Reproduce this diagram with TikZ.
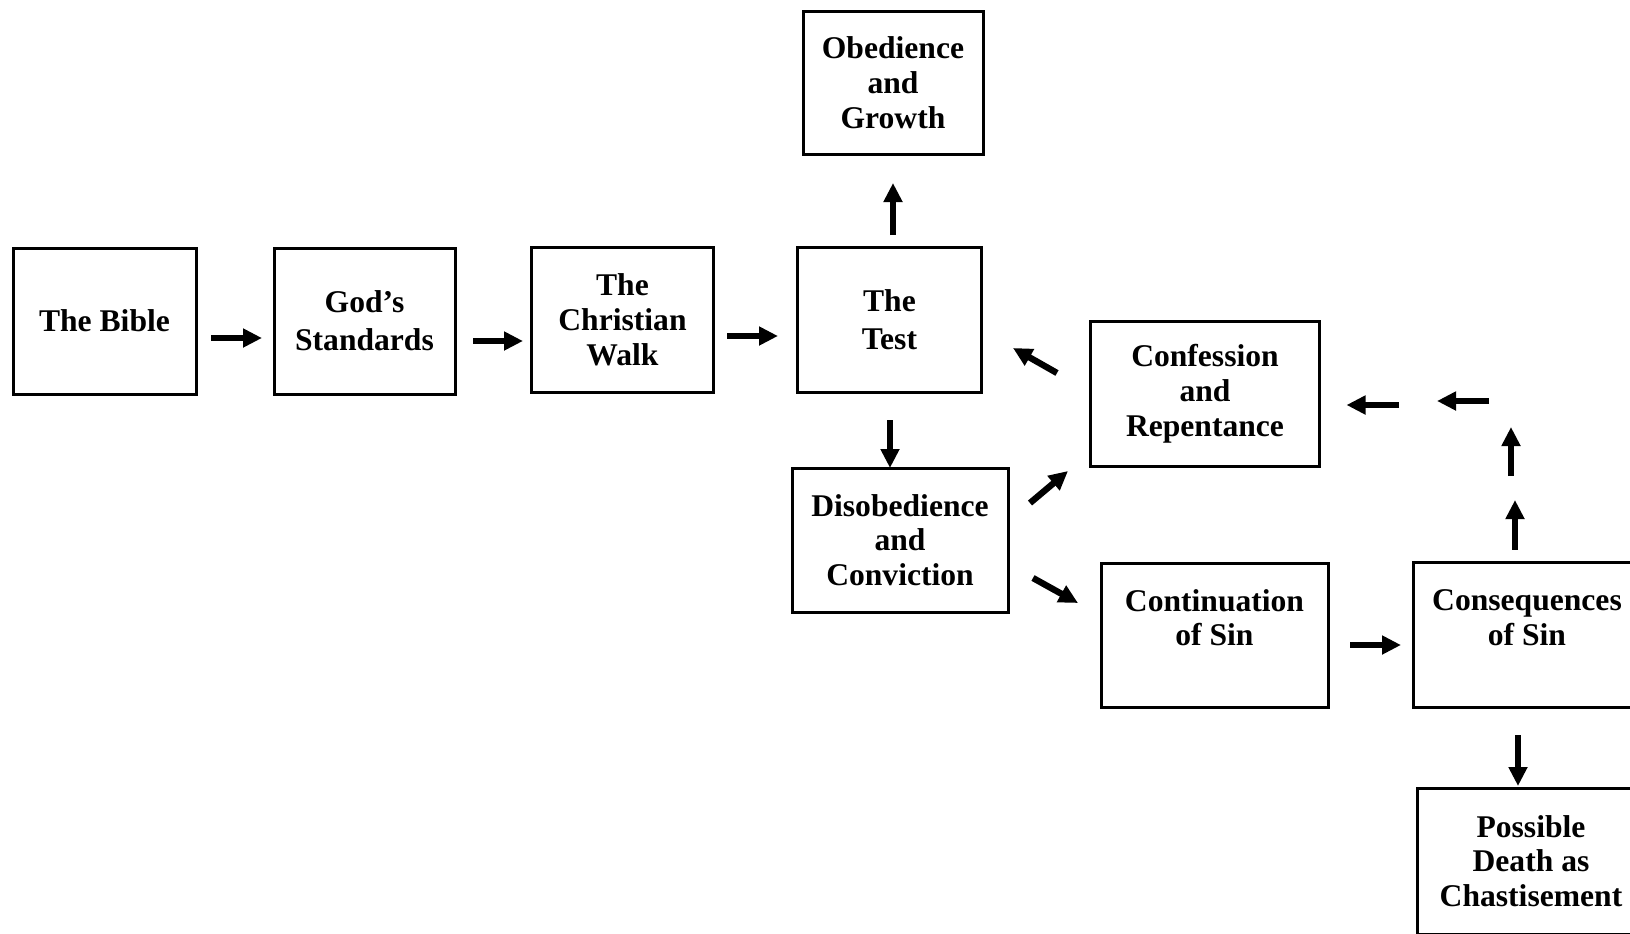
\documentclass[tikz,border=0pt]{standalone}
\usepackage{fontspec}
\setmainfont{Liberation Serif}
\usepackage{tikz}
\usetikzlibrary{arrows.meta,calc}

\begin{document}
\begin{tikzpicture}[
  x=0.5pt, y=-0.5pt,
  line cap=butt, line join=miter,
  stage/.style={
    rectangle, draw=black, line width=1.5pt,
    align=center, inner sep=0pt, outer sep=0pt,
    font=\rmfamily\bfseries\fontsize{15.8}{17.4}\selectfont
  },
  link/.style={-{Triangle[length=9.5pt, width=9pt]}, line width=3.2pt, draw=black}
]

% =========================================================================
% Page (boxes on the right run past the edge)
% =========================================================================
\clip (0,0) rectangle (1630,933);

% =========================================================================
% Boxes
% =========================================================================
% top row
\node[stage, minimum width=91.5pt, minimum height=73pt] (bible) at (104.5,321) {The Bible};
\node[stage, minimum width=90.5pt, minimum height=73pt] (gods) at (364.5,321) {God’s\\[1.5pt]Standards};
\node[stage, minimum width=91pt, minimum height=72.5pt] (walk) at (622.5,319.5) {The\\Christian\\Walk};
\node[stage, minimum width=92pt, minimum height=72.5pt] (test) at (889.5,319.5) {The\\[1.5pt]Test};

% above the test
\node[stage, minimum width=90pt, minimum height=71.5pt] (obey) at (893,82.5) {Obedience\\and\\Growth};

% below the test
\node[stage, minimum width=108pt, minimum height=72pt] (disob) at (900,540) {Disobedience\\and\\Conviction};

% right side
\node[stage, minimum width=114.5pt, minimum height=72.5pt] (confess) at (1205,394) {Confession\\and\\Repentance};
\node[stage, minimum width=113.5pt, minimum height=72pt] (contin) at (1214.5,635) {Continuation\\of Sin\\~};
\node[stage, minimum width=114pt, minimum height=72.5pt] (conseq) at (1527,635) {Consequences\\of Sin\\~};
\node[stage, minimum width=114pt, minimum height=73pt] (death) at (1531,861) {Possible\\Death as\\Chastisement};

% corner of the way back
\coordinate (bend) at (1511,404);

% =========================================================================
% Arrows
% =========================================================================
\draw[link] ($(bible.east)+(15,17)$) -- ($(gods.west)+(-12,17)$);
\draw[link] ($(gods.east)+(18,20)$) -- ($(walk.west)+(-8.5,21.5)$);
\draw[link] ($(walk.east)+(13.5,16.5)$) -- ($(test.west)+(-19.5,16.5)$);

% test -> obedience / disobedience
\draw[link] ($(test.north)+(3.5,-12)$) -- ($(obey.south)+(0,29)$);
\draw[link] ($(test.south)+(0.5,28)$) -- ($(disob.north)+(-10,0)$);

% disobedience -> confession / continuation
\draw[link] ($(disob.east)+(22,-37)$) -- ($(confess.south west)+(-22.5,4.5)$);
\draw[link] ($(disob.east)+(25,38)$) -- ($(contin.west)+(-23,-32)$);

% confession -> back to the test
\draw[link] ($(confess.west)+(-33.5,-21)$) -- ($(test.east)+(31.5,28.5)$);

% continuation -> consequences -> death
\draw[link] ($(contin.east)+(22,10)$) -- ($(conseq.west)+(-12,10)$);
\draw[link] ($(conseq.south)+(-9,27.5)$) -- ($(death.north)+(-13,-2)$);

% consequences -> up and round to confession
\draw[link] ($(conseq.north west)+(102,-13)$) -- ($(bend)+(4,96)$);
\draw[link] ($(bend)+(0,72)$) -- ($(bend)+(0,23)$);
\draw[link] ($(bend)+(-22,-3)$) -- ($(bend)+(-74,-3)$);
\draw[link] ($(bend)+(-112,1)$) -- ($(confess.east)+(27,11)$);

\end{tikzpicture}
\end{document}
